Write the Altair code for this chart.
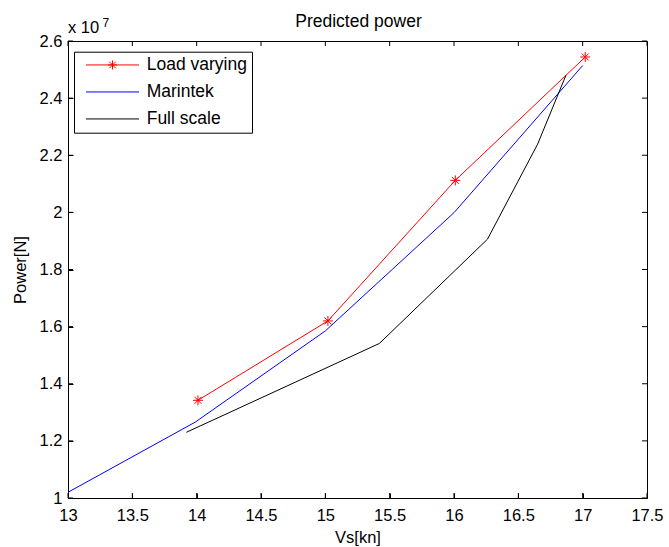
import altair as alt
import pandas as pd

# ---- data ----
series_names = ["Load varying", "Marintek", "Full scale"]
series_colors = ["#ff0000", "#0000ff", "#000000"]

load_vs = [14.01, 15.02, 16.01, 17.02]
load_power = [1.342e7, 1.620e7, 2.112e7, 2.544e7]

marintek_vs = [13.0, 13.99, 15.0, 16.0, 17.0]
marintek_power = [1.020e7, 1.266e7, 1.585e7, 1.999e7, 2.514e7]

full_vs = [13.92, 15.42, 16.26, 16.65, 16.87]
full_power = [1.230e7, 1.541e7, 1.906e7, 2.239e7, 2.480e7]

x_ticks = [13, 13.5, 14, 14.5, 15, 15.5, 16, 16.5, 17, 17.5]
y_ticks = [1.0e7, 1.2e7, 1.4e7, 1.6e7, 1.8e7, 2.0e7, 2.2e7, 2.4e7, 2.6e7]

title_text = ["Predicted power"]
x_title = "Vs[kn]"
y_title = "Power[N]"
exp_base = ["x 10"]
exp_power = ["7"]

FONT = "Liberation Sans"
W, H = 579, 457
TICK = 5

# ---- tables ----
rows = []
for name, xs, ys in [(series_names[0], load_vs, load_power),
                     (series_names[1], marintek_vs, marintek_power),
                     (series_names[2], full_vs, full_power)]:
    for xv, yv in zip(xs, ys):
        rows.append({"series": name, "vs": xv, "power": yv})
df = pd.DataFrame(rows)
legend_df = pd.DataFrame({"series": series_names, "vs": [None] * 3, "power": [None] * 3})
xtick_df = pd.DataFrame({"vs": x_ticks})
ytick_df = pd.DataFrame({"power": y_ticks})

xscale = alt.Scale(domain=[13, 17.5], nice=False, zero=False)
yscale = alt.Scale(domain=[1.0e7, 2.6e7], nice=False, zero=False)

star_path = "M0,-1V1M-1,0H1M-0.7,-0.7L0.7,0.7M-0.7,0.7L0.7,-0.7"
line_path = "M-5.3,0H5.3"
line_star_path = line_path + "M0,-0.9V0.9M-0.9,0H0.9M-0.65,-0.65L0.65,0.65M-0.65,0.65L0.65,-0.65"

ylabel_expr = "format(round(datum.value/1e6)/10, '~g')"

# axes: labelled bottom / left, pulled inside by the tick length so ticks point inward
x_axis_main = alt.Axis(values=x_ticks, tickSize=TICK, offset=-TICK, labelPadding=9,
                       labelFlush=False, labelOverlap=False, format="~g", title=x_title,
                       titleY=49, titleBaseline="alphabetic")
y_axis_main = alt.Axis(values=y_ticks, tickSize=TICK, offset=-TICK, labelPadding=6,
                       labelFlush=False, labelOverlap=False, labelExpr=ylabel_expr,
                       title=y_title, titleX=-48, titleY=H / 2, titleAngle=270,
                       titleBaseline="alphabetic", titleAlign="center")

# one line layer per series (constant colours, so no competing legend)
line_layers = []
for i, (name, col) in enumerate(zip(series_names, series_colors)):
    line_layers.append(
        alt.Chart(df).transform_filter(alt.datum.series == name)
        .mark_line(color=col, strokeWidth=1)
        .encode(
            x=alt.X("vs:Q", scale=xscale, axis=x_axis_main if i == 0 else None),
            y=alt.Y("power:Q", scale=yscale, axis=y_axis_main if i == 0 else None),
        )
    )

# star markers for the load-varying series
stars = alt.Chart(df).transform_filter(alt.datum.series == series_names[0]).mark_point(
    shape=star_path, size=100, filled=False, strokeWidth=1, color=series_colors[0],
    opacity=1).encode(
    x=alt.X("vs:Q", scale=xscale, axis=None),
    y=alt.Y("power:Q", scale=yscale, axis=None),
)

# inward tick marks on all four sides, placed by the shared scales
tick_style = dict(color="black", strokeWidth=1)
ticks_bottom = alt.Chart(xtick_df).mark_rule(**tick_style).encode(
    x=alt.X("vs:Q", scale=xscale, axis=None), y=alt.value(H), y2=alt.value(H - TICK))
ticks_top = alt.Chart(xtick_df).mark_rule(**tick_style).encode(
    x=alt.X("vs:Q", scale=xscale, axis=None), y=alt.value(0), y2=alt.value(TICK))
ticks_left = alt.Chart(ytick_df).mark_rule(**tick_style).encode(
    y=alt.Y("power:Q", scale=yscale, axis=None), x=alt.value(0), x2=alt.value(TICK))
ticks_right = alt.Chart(ytick_df).mark_rule(**tick_style).encode(
    y=alt.Y("power:Q", scale=yscale, axis=None), x=alt.value(W), x2=alt.value(W - TICK))

# legend entries
leg = alt.Legend(title=None, orient="none", legendX=6, legendY=10.7, padding=4.5,
                 symbolSize=100, symbolStrokeWidth=1, symbolOffset=25.25, labelOffset=25.45,
                 labelFontSize=17.5, labelFont=FONT, labelColor="black", labelLimit=400,
                 rowPadding=8, fillColor="white", strokeColor="black", cornerRadius=0)
legend_layer = alt.Chart(legend_df).mark_point(filled=False, strokeWidth=1, opacity=1).encode(
    x=alt.X("vs:Q", scale=xscale, axis=None),
    y=alt.Y("power:Q", scale=yscale, axis=None),
    color=alt.Color("series:N", scale=alt.Scale(domain=series_names, range=series_colors),
                    legend=leg),
    shape=alt.Shape("series:N",
                    scale=alt.Scale(domain=series_names,
                                    range=[line_star_path, line_path, line_path]),
                    legend=leg),
)

# title and exponent annotation
title_mark = alt.Chart(pd.DataFrame({"t": title_text})).mark_text(
    align="center", baseline="alphabetic", fontSize=17.5, font=FONT, color="black").encode(
    text="t:N", x=alt.value(W / 2 + 1), y=alt.value(-14.3))
exp_text = alt.Chart(pd.DataFrame({"t": exp_base})).mark_text(
    align="left", baseline="alphabetic", fontSize=16.5, font=FONT, color="black").encode(
    text="t:N", x=alt.value(0), y=alt.value(-8.3))
exp_sup = alt.Chart(pd.DataFrame({"t": exp_power})).mark_text(
    align="left", baseline="alphabetic", fontSize=12, font=FONT, color="black").encode(
    text="t:N", x=alt.value(34.5), y=alt.value(-14.3))

chart = alt.layer(*line_layers, stars, ticks_bottom, ticks_top, ticks_left, ticks_right,
                  legend_layer, title_mark, exp_text, exp_sup).resolve_axis(
    x="independent", y="independent"
).properties(
    width=W, height=H,
    padding={"left": 68, "top": 41, "right": 22, "bottom": 49},
    autosize=alt.AutoSizeParams(type="none"),
    background="white",
).configure_view(
    stroke="black", strokeWidth=1
).configure_axis(
    grid=False, domain=False, labelFont=FONT, titleFont=FONT, labelFontSize=16.5,
    titleFontSize=16.5, titleFontWeight="normal", labelColor="black", titleColor="black",
    tickColor="black", tickWidth=1
)

chart.save("out.html", embed_options={"renderer": "svg", "actions": False})
